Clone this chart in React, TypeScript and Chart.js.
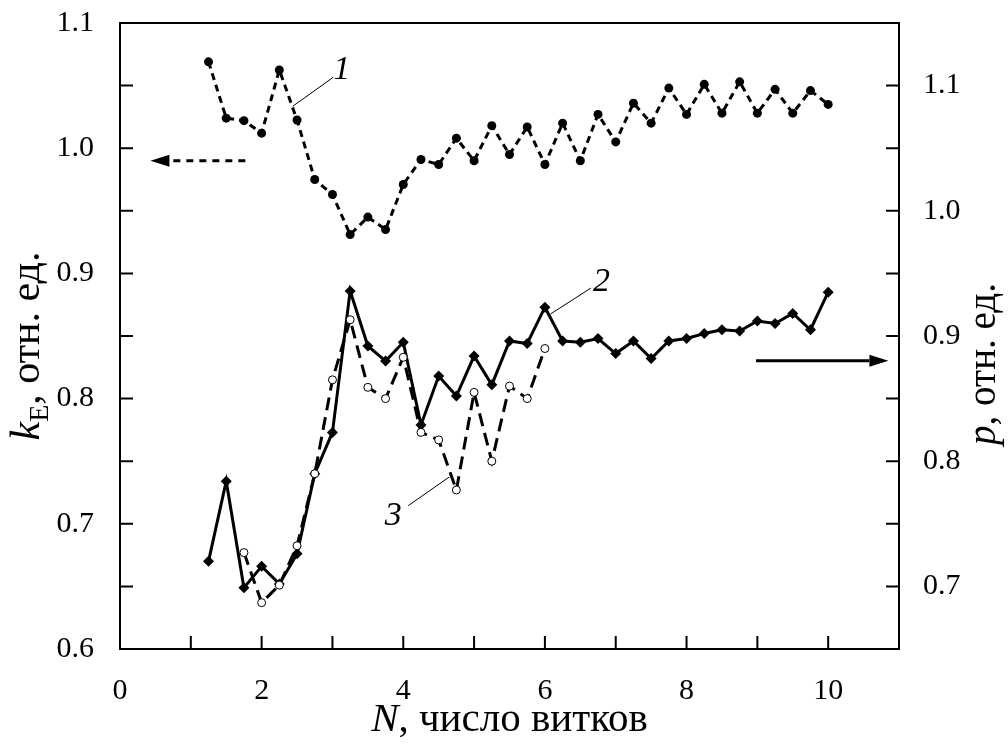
import React, { useEffect, useRef } from "react";
import { Chart, registerables } from "chart.js";

Chart.register(...registerables);

// ---- data ----
// curve 1: k_E (left axis), filled circles, dashed line
const N_CURVE_1 = [1.25, 1.5, 1.75, 2, 2.25, 2.5, 2.75, 3, 3.25, 3.5, 3.75, 4, 4.25, 4.5, 4.75, 5, 5.25, 5.5, 5.75, 6, 6.25, 6.5, 6.75, 7, 7.25, 7.5, 7.75, 8, 8.25, 8.5, 8.75, 9, 9.25, 9.5, 9.75, 10];
const KE_CURVE_1 = [1.069, 1.024, 1.022, 1.012, 1.0625, 1.0225, 0.975, 0.963, 0.931, 0.945, 0.935, 0.971, 0.991, 0.987, 1.008, 0.99, 1.018, 0.995, 1.017, 0.987, 1.02, 0.99, 1.027, 1.005, 1.036, 1.02, 1.048, 1.027, 1.051, 1.028, 1.053, 1.028, 1.047, 1.028, 1.046, 1.035];

// curve 2: p (right axis), filled diamonds, solid line
const N_CURVE_2 = [1.25, 1.5, 1.75, 2, 2.25, 2.5, 2.75, 3, 3.25, 3.5, 3.75, 4, 4.25, 4.5, 4.75, 5, 5.25, 5.5, 5.75, 6, 6.25, 6.5, 6.75, 7, 7.25, 7.5, 7.75, 8, 8.25, 8.5, 8.75, 9, 9.25, 9.5, 9.75, 10];
const P_CURVE_2 = [0.72, 0.784, 0.699, 0.716, 0.702, 0.726, 0.79, 0.823, 0.936, 0.892, 0.88, 0.895, 0.829, 0.868, 0.852, 0.884, 0.861, 0.896, 0.894, 0.923, 0.896, 0.895, 0.898, 0.886, 0.896, 0.882, 0.896, 0.898, 0.902, 0.905, 0.904, 0.912, 0.91, 0.918, 0.905, 0.935];

// curve 3: p (right axis), open circles, long-dashed line
const N_CURVE_3 = [1.75, 2, 2.25, 2.5, 2.75, 3, 3.25, 3.5, 3.75, 4, 4.25, 4.5, 4.75, 5, 5.25, 5.5, 5.75, 6];
const P_CURVE_3 = [0.727, 0.687, 0.701, 0.7325, 0.79, 0.865, 0.913, 0.859, 0.85, 0.883, 0.823, 0.817, 0.777, 0.855, 0.8, 0.86, 0.85, 0.89];

// axis ranges
const X_RANGE = [0, 11];
const KE_RANGE = [0.6, 1.1];
const P_RANGE = [0.65, 1.15];

// texts
const X_TITLE = { italic: "N", rest: ", число витков" };
const LEFT_TITLE = { italic: "k", sub: "E", rest: ", отн. ед." };
const RIGHT_TITLE = { italic: "p", rest: ", отн. ед." };

// curve labels with leader lines (data coordinates)
const CURVE_LABELS = [
  { text: "1", axis: "yL", x: 3.13, y: 1.0625, from: [2.44, 1.0335], to: [3.01, 1.0566] },
  { text: "2", axis: "yR", x: 6.8, y: 0.943, from: [6.08, 0.9176], to: [6.65, 0.9383] },
  { text: "3", axis: "yR", x: 3.86, y: 0.756, from: [4.07, 0.7645], to: [4.65, 0.7874] },
];
// arrows telling which axis belongs to which curve
const AXIS_ARROWS = [
  { axis: "yL", y: 0.99, from: 1.77, to: 0.43, dashed: true },
  { axis: "yR", y: 0.8803, from: 8.98, to: 10.85, dashed: false },
];

const FONT = '"Liberation Serif", "Times New Roman", serif';

const labelEveryTenth = (v: number) => {
  const r = Math.round(Number(v) * 100);
  return r % 10 === 0 ? (r / 100).toFixed(1) : "";
};

function drawRuns(ctx: CanvasRenderingContext2D, runs: { text: string; font: string; dy?: number }[], cx: number, cy: number, rot: number) {
  ctx.save();
  ctx.translate(cx, cy);
  ctx.rotate(rot);
  ctx.textAlign = "left";
  ctx.textBaseline = "alphabetic";
  ctx.fillStyle = "#000";
  let total = 0;
  runs.forEach((r) => {
    ctx.font = r.font;
    total += ctx.measureText(r.text).width;
  });
  let x = -total / 2;
  runs.forEach((r) => {
    ctx.font = r.font;
    ctx.fillText(r.text, x, r.dy || 0);
    x += ctx.measureText(r.text).width;
  });
  ctx.restore();
}

const decorPlugin = {
  id: "decor",
  afterDatasetsDraw(chart: any) {
    const { ctx, chartArea: a, scales } = chart;
    const sx = scales.x;
    ctx.save();
    ctx.strokeStyle = "#000";
    ctx.fillStyle = "#000";
    ctx.setLineDash([]);

    // frame
    ctx.lineWidth = 2;
    ctx.strokeRect(a.left, a.top, a.right - a.left, a.bottom - a.top);

    // inward tick marks
    const TL = 13;
    ctx.beginPath();
    sx.ticks.forEach((t: any) => {
      const px = sx.getPixelForValue(t.value);
      ctx.moveTo(px, a.bottom);
      ctx.lineTo(px, a.bottom - TL);
    });
    scales.yL.ticks.forEach((t: any) => {
      const py = scales.yL.getPixelForValue(t.value);
      ctx.moveTo(a.left, py);
      ctx.lineTo(a.left + TL, py);
    });
    scales.yR.ticks.forEach((t: any) => {
      const py = scales.yR.getPixelForValue(t.value);
      ctx.moveTo(a.right, py);
      ctx.lineTo(a.right - TL, py);
    });
    ctx.stroke();

    // arrows
    AXIS_ARROWS.forEach((ar) => {
      const py = scales[ar.axis].getPixelForValue(ar.y);
      const x1 = sx.getPixelForValue(ar.from);
      const x2 = sx.getPixelForValue(ar.to);
      const dir = Math.sign(x2 - x1);
      const headLen = 19;
      const headHalf = 6;
      ctx.lineWidth = 3;
      ctx.setLineDash(ar.dashed ? [7, 6] : []);
      ctx.beginPath();
      ctx.moveTo(x1, py);
      ctx.lineTo(x2 - dir * headLen, py);
      ctx.stroke();
      ctx.setLineDash([]);
      ctx.beginPath();
      ctx.moveTo(x2, py);
      ctx.lineTo(x2 - dir * headLen, py - headHalf);
      ctx.lineTo(x2 - dir * headLen, py + headHalf);
      ctx.closePath();
      ctx.fill();
    });

    // curve labels
    CURVE_LABELS.forEach((lb) => {
      const sy = scales[lb.axis];
      ctx.lineWidth = 1;
      ctx.beginPath();
      ctx.moveTo(sx.getPixelForValue(lb.from[0]), sy.getPixelForValue(lb.from[1]));
      ctx.lineTo(sx.getPixelForValue(lb.to[0]), sy.getPixelForValue(lb.to[1]));
      ctx.stroke();
      ctx.font = `italic 34px ${FONT}`;
      ctx.textAlign = "center";
      ctx.textBaseline = "middle";
      ctx.fillText(lb.text, sx.getPixelForValue(lb.x), sy.getPixelForValue(lb.y));
    });

    // axis titles
    const cxPlot = (a.left + a.right) / 2;
    const cyPlot = (a.top + a.bottom) / 2;
    drawRuns(ctx, [
      { text: X_TITLE.italic, font: `italic 41px ${FONT}` },
      { text: X_TITLE.rest, font: `41px ${FONT}` },
    ], cxPlot, a.bottom + 82, 0);
    drawRuns(ctx, [
      { text: LEFT_TITLE.italic, font: `italic 42px ${FONT}` },
      { text: LEFT_TITLE.sub, font: `28px ${FONT}`, dy: 9 },
      { text: LEFT_TITLE.rest, font: `42px ${FONT}` },
    ], a.left - 81, cyPlot + 10, -Math.PI / 2);
    drawRuns(ctx, [
      { text: RIGHT_TITLE.italic, font: `italic 39px ${FONT}` },
      { text: RIGHT_TITLE.rest, font: `39px ${FONT}` },
    ], a.right + 96, cyPlot + 28, -Math.PI / 2);

    ctx.restore();
  },
};

export default function App() {
  const ref = useRef<HTMLCanvasElement | null>(null);

  useEffect(() => {
    if (!ref.current) return;
    const tickFont = { family: FONT, size: 30 };
    const chart = new Chart(ref.current, {
      type: "line",
      data: {
        datasets: [
          {
            label: "1",
            yAxisID: "yL",
            data: N_CURVE_1.map((n, i) => ({ x: n, y: KE_CURVE_1[i] })),
            borderColor: "#000",
            borderWidth: 3,
            borderDash: [7, 5],
            pointStyle: "circle",
            pointRadius: 4.5,
            pointBackgroundColor: "#000",
            pointBorderColor: "#000",
            pointBorderWidth: 0,
            tension: 0,
            order: 2,
          },
          {
            label: "2",
            yAxisID: "yR",
            data: N_CURVE_2.map((n, i) => ({ x: n, y: P_CURVE_2[i] })),
            borderColor: "#000",
            borderWidth: 3,
            pointStyle: "rectRot",
            pointRadius: 5.5,
            pointBackgroundColor: "#000",
            pointBorderColor: "#000",
            pointBorderWidth: 0,
            tension: 0,
            order: 1,
          },
          {
            label: "3",
            yAxisID: "yR",
            data: N_CURVE_3.map((n, i) => ({ x: n, y: P_CURVE_3[i] })),
            borderColor: "#000",
            borderWidth: 3,
            borderDash: [13, 7],
            pointStyle: "circle",
            pointRadius: 4,
            pointBackgroundColor: "#fff",
            pointBorderColor: "#000",
            pointBorderWidth: 1,
            tension: 0,
            order: 0,
          },
        ],
      },
      options: {
        animation: false,
        responsive: false,
        devicePixelRatio: 1,
        layout: { padding: { top: 23, left: 0, right: 0, bottom: 0 } },
        plugins: {
          legend: { display: false },
          tooltip: { enabled: false },
          title: { display: false },
        },
        scales: {
          x: {
            type: "linear",
            position: "bottom",
            min: X_RANGE[0],
            max: X_RANGE[1],
            afterFit: (s: any) => {
              s.height = 105;
              s.paddingLeft = 0;
              s.paddingRight = 0;
            },
            grid: { display: false },
            border: { display: false },
            ticks: {
              stepSize: 1,
              autoSkip: false,
              maxRotation: 0,
              padding: 16,
              color: "#000",
              font: tickFont,
              callback: (v: any) => {
                const n = Math.round(Number(v));
                return n % 2 === 0 && n <= 10 ? String(n) : "";
              },
            },
          },
          yL: {
            type: "linear",
            position: "left",
            min: KE_RANGE[0],
            max: KE_RANGE[1],
            afterFit: (s: any) => {
              s.width = 120;
              s.paddingTop = 0;
              s.paddingBottom = 0;
            },
            grid: { display: false },
            border: { display: false },
            ticks: {
              stepSize: 0.05,
              autoSkip: false,
              padding: 18,
              color: "#000",
              font: tickFont,
              callback: labelEveryTenth,
            },
          },
          yR: {
            type: "linear",
            position: "right",
            min: P_RANGE[0],
            max: P_RANGE[1],
            afterFit: (s: any) => {
              s.width = 109;
              s.paddingTop = 0;
              s.paddingBottom = 0;
            },
            grid: { display: false },
            border: { display: false },
            ticks: {
              stepSize: 0.05,
              autoSkip: false,
              padding: 16,
              color: "#000",
              font: tickFont,
              callback: labelEveryTenth,
            },
          },
        },
      },
      plugins: [decorPlugin],
    } as any);
    return () => chart.destroy();
  }, []);

  return (
    <div style={{ position: "absolute", left: 0, top: 0, width: 1008, height: 754, background: "#fff" }}>
      <canvas ref={ref} width={1008} height={754} style={{ display: "block" }} />
    </div>
  );
}
